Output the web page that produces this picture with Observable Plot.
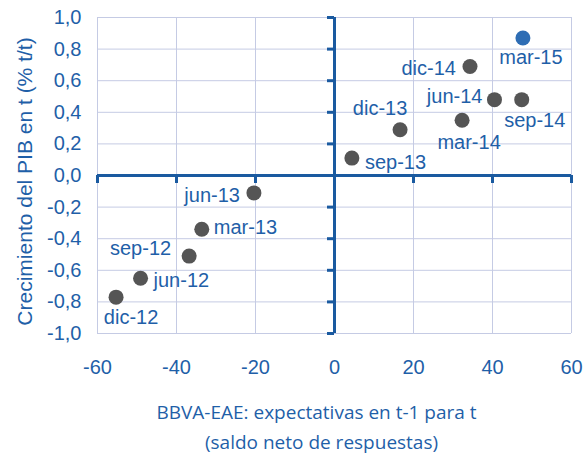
<!DOCTYPE html>
<html>
<head>
<meta charset="utf-8">
<script src="https://cdn.jsdelivr.net/npm/d3@7"></script>
<script src="https://cdn.jsdelivr.net/npm/@observablehq/plot@0.6"></script>
<style>
  html, body { margin: 0; padding: 0; background: #ffffff; }
  #chart svg { display: block; }
</style>
</head>
<body>
<div id="chart"></div>
<script>
// ---- data ----
const periods = ["dic-12", "jun-12", "sep-12", "mar-13", "jun-13", "sep-13", "dic-13", "mar-14", "jun-14", "sep-14", "dic-14", "mar-15"];
const expectativas = [-55.3, -49.1, -36.8, -33.6, -20.4, 4.4, 16.6, 32.3, 40.5, 47.4, 34.3, 47.7];
const crecimientoPIB = [-0.77, -0.65, -0.51, -0.34, -0.11, 0.11, 0.29, 0.35, 0.48, 0.48, 0.69, 0.87];
const highlighted = ["mar-15"];
const xTicks = [-60, -40, -20, 0, 20, 40, 60];
const yTicks = [-1.0, -0.8, -0.6, -0.4, -0.2, 0.0, 0.2, 0.4, 0.6, 0.8, 1.0];
const yTitle = "Crecimiento del PIB en t (% t/t)";
const xTitle1 = "BBVA-EAE: expectativas en t-1 para t";
const xTitle2 = "(saldo neto de respuestas)";

// ---- label placement (layout only) ----
const placement = {
  "mar-15": {anchor: "middle", dx: 8, dy: 20},
  "dic-14": {anchor: "end", dx: -14, dy: 2},
  "jun-14": {anchor: "end", dx: -12, dy: -3},
  "sep-14": {anchor: "middle", dx: 13, dy: 21},
  "mar-14": {anchor: "middle", dx: 7, dy: 22},
  "dic-13": {anchor: "middle", dx: -20, dy: -21},
  "sep-13": {anchor: "start", dx: 13, dy: 4},
  "jun-13": {anchor: "end", dx: -14, dy: 3},
  "mar-13": {anchor: "start", dx: 12, dy: -2},
  "sep-12": {anchor: "end", dx: -18, dy: -7},
  "jun-12": {anchor: "start", dx: 13, dy: 2},
  "dic-12": {anchor: "middle", dx: 15, dy: 20}
};

const data = periods.map((p, i) => ({period: p, x: expectativas[i], y: crecimientoPIB[i], hi: highlighted.includes(p)}));

const textColor = "#1f5fa8";
const axisColor = "#1a5aa0";
const gridColor = "#c5cbe4";
const sans = "'Liberation Sans', Arial, sans-serif";
const humanist = "'Open Sans', 'Noto Sans', sans-serif";

const labelMarks = data.map(d => {
  const pl = placement[d.period];
  return Plot.text([d], {x: "x", y: "y", text: "period", textAnchor: pl.anchor, dx: pl.dx, dy: pl.dy,
    fill: textColor, fontSize: 20, fontFamily: sans});
});

const chart = Plot.plot({
  width: 586,
  height: 453,
  marginLeft: 97,
  marginRight: 15,
  marginTop: 17,
  marginBottom: 120,
  style: {background: "#ffffff", fontFamily: sans},
  x: {domain: [-60, 60]},
  y: {domain: [-1, 1]},
  marks: [
    Plot.gridX(xTicks, {stroke: gridColor, strokeOpacity: 1, strokeWidth: 1}),
    Plot.gridY(yTicks, {stroke: gridColor, strokeOpacity: 1, strokeWidth: 1}),
    Plot.axisX(xTicks, {tickSize: 0, tickPadding: 26, fontSize: 20, fill: textColor, tickFormat: d => String(d), label: null}),
    Plot.axisY(yTicks, {tickSize: 0, tickPadding: 16, fontSize: 20, fill: textColor, tickFormat: d => d.toFixed(1).replace(".", ","), label: null}),
    Plot.ruleX([0], {stroke: axisColor, strokeWidth: 3}),
    Plot.ruleY([0], {stroke: axisColor, strokeWidth: 3}),
    Plot.ruleX(xTicks, {x: d => d, y1: 0, y2: 0, insetBottom: -8, stroke: axisColor, strokeWidth: 3}),
    Plot.ruleY(yTicks, {y: d => d, x1: 0, x2: 0, insetLeft: -7, stroke: axisColor, strokeWidth: 3}),
    Plot.dot(data, {x: "x", y: "y", r: 7.5, fill: d => d.hi ? "#2e6db4" : "#555555", stroke: "none"}),
    ...labelMarks,
    Plot.text([yTitle], {frameAnchor: "left", textAnchor: "middle", dx: -72, dy: 6, rotate: -90, fill: textColor, fontSize: 21, fontFamily: sans}),
    Plot.text([xTitle1], {frameAnchor: "bottom", dx: -18, dy: 85, fill: textColor, fontSize: 19, fontFamily: humanist}),
    Plot.text([xTitle2], {frameAnchor: "bottom", dx: -13, dy: 115, fill: textColor, fontSize: 19, fontFamily: humanist})
  ]
});
document.getElementById("chart").appendChild(chart);
</script>
</body>
</html>
